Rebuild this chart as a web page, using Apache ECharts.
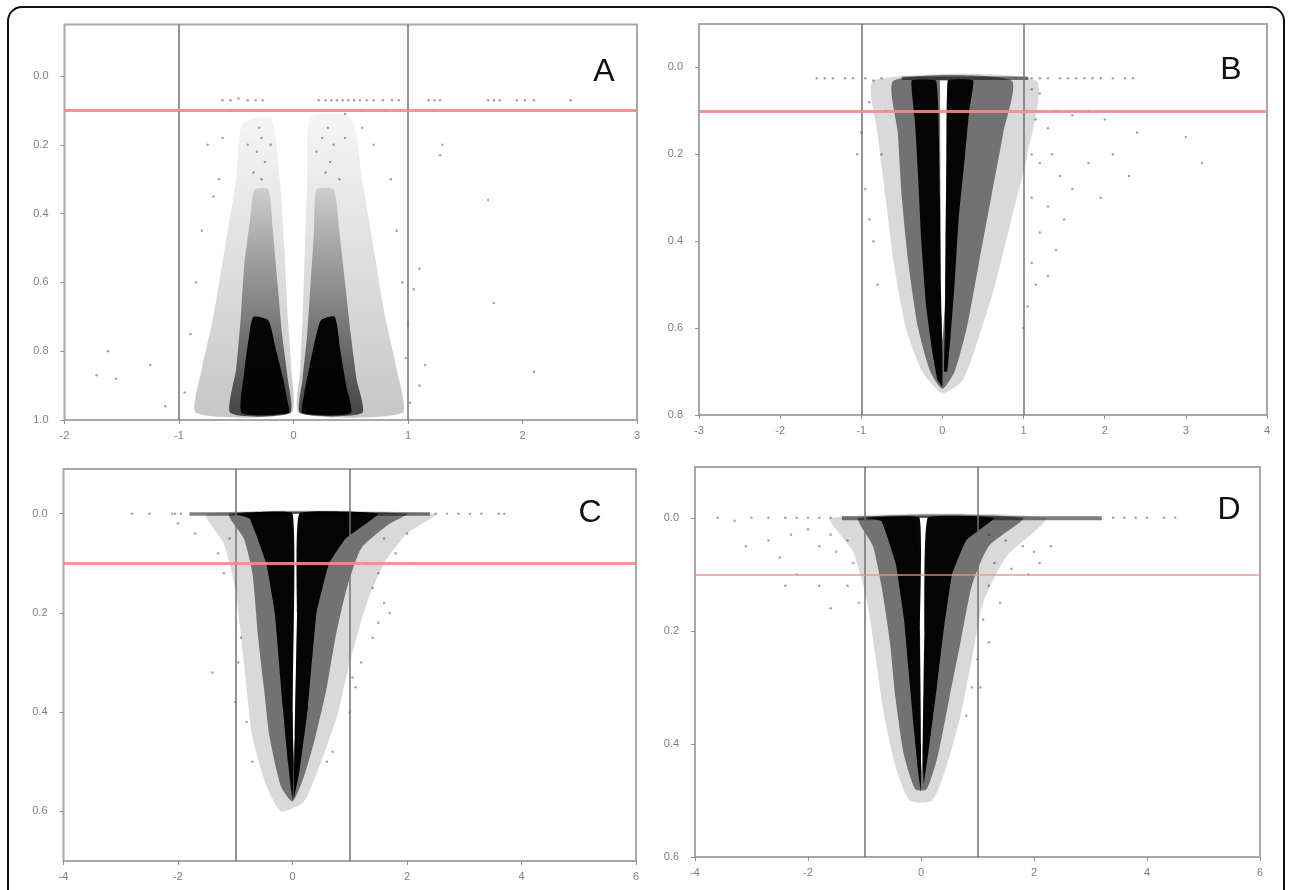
<!DOCTYPE html>
<html>
<head>
<meta charset="utf-8">
<script src="https://cdn.jsdelivr.net/npm/echarts@6/dist/echarts.min.js"></script>
<style>html,body{margin:0;padding:0;background:#fff}#c{width:1289px;height:890px}</style>
</head>
<body>
<div id="c"></div>
<script>
// ---------- tick labels ----------
const yTicksA = [0, 0.2, 0.4, 0.6, 0.8, 1.0];
const yTicksB = [0, 0.2, 0.4, 0.6, 0.8];
const yTicksC = [0, 0.2, 0.4, 0.6];
const yTicksD = [0, 0.2, 0.4, 0.6];
const panelLabels = ['A', 'B', 'C', 'D'];

// ---------- density outlines (x, y) ----------
// Panel A: two separate arms
const A_haloL = [[-0.85,0.98],[-0.8,0.85],[-0.7,0.7],[-0.6,0.5],[-0.5,0.3],[-0.45,0.14],[-0.2,0.12],[-0.12,0.3],[-0.08,0.5],[-0.05,0.7],[-0.02,0.85],[-0.02,0.98]];
const A_midL  = [[-0.55,0.98],[-0.5,0.85],[-0.46,0.7],[-0.43,0.55],[-0.38,0.42],[-0.34,0.33],[-0.22,0.33],[-0.18,0.45],[-0.14,0.6],[-0.1,0.75],[-0.05,0.88],[-0.03,0.98]];
const A_coreL = [[-0.45,0.98],[-0.43,0.86],[-0.39,0.76],[-0.35,0.7],[-0.22,0.71],[-0.15,0.8],[-0.09,0.88],[-0.05,0.95],[-0.04,0.98]];
const A_haloR = [[0.05,0.98],[0.06,0.85],[0.08,0.7],[0.1,0.5],[0.12,0.3],[0.15,0.12],[0.5,0.12],[0.6,0.3],[0.7,0.5],[0.8,0.7],[0.9,0.85],[0.95,0.98]];
const A_midR  = [[0.06,0.98],[0.08,0.88],[0.12,0.75],[0.15,0.6],[0.18,0.45],[0.2,0.33],[0.35,0.33],[0.4,0.45],[0.45,0.6],[0.5,0.75],[0.55,0.88],[0.6,0.98]];
const A_coreR = [[0.08,0.98],[0.09,0.93],[0.13,0.86],[0.18,0.78],[0.24,0.71],[0.36,0.7],[0.41,0.8],[0.46,0.9],[0.5,0.98]];

// Panel B
const B_halo  = [[-0.85,0.03],[-0.8,0.15],[-0.7,0.3],[-0.6,0.45],[-0.45,0.6],[-0.25,0.7],[0.0,0.75],[0.25,0.72],[0.45,0.62],[0.65,0.5],[0.85,0.35],[1.05,0.2],[1.15,0.03]];
const B_mid   = [[-0.6,0.03],[-0.55,0.15],[-0.5,0.3],[-0.42,0.45],[-0.3,0.6],[-0.15,0.7],[0.0,0.74],[0.15,0.7],[0.3,0.6],[0.45,0.45],[0.6,0.3],[0.75,0.15],[0.85,0.03]];
const B_band  = [[-0.5,0.021],[1.05,0.021],[1.05,0.029],[-0.5,0.029]];
const B_gap   = [[-0.03,0.03],[0.06,0.03],[0.03,0.55],[0.0,0.63],[-0.02,0.55]];
const B_coreL = [[-0.38,0.03],[-0.34,0.12],[-0.3,0.25],[-0.26,0.4],[-0.2,0.55],[-0.12,0.66],[-0.06,0.72],[0.0,0.735],[0.0,0.65],[-0.02,0.5],[-0.03,0.3],[-0.05,0.1],[-0.08,0.03]];
const B_coreR = [[0.07,0.03],[0.05,0.2],[0.04,0.4],[0.03,0.6],[0.02,0.7],[0.06,0.7],[0.1,0.62],[0.15,0.5],[0.2,0.35],[0.28,0.2],[0.33,0.1],[0.38,0.03]];

// Panel C
const C_halo  = [[-1.5,0.0],[-1.2,0.06],[-1.0,0.15],[-0.85,0.3],[-0.7,0.45],[-0.45,0.55],[-0.2,0.6],[0.2,0.58],[0.5,0.5],[0.8,0.4],[1.0,0.3],[1.3,0.18],[1.6,0.1],[2.0,0.04],[2.5,0.0]];
const C_mid   = [[-1.1,0.0],[-0.85,0.05],[-0.7,0.12],[-0.6,0.25],[-0.5,0.35],[-0.4,0.45],[-0.2,0.55],[0.0,0.58],[0.2,0.53],[0.4,0.45],[0.6,0.35],[0.75,0.25],[0.95,0.15],[1.2,0.07],[1.7,0.02],[2.0,0.0]];
const C_band  = [[-1.8,-0.003],[2.4,-0.003],[2.4,0.004],[-1.8,0.004]];
const C_gap   = [[0.0,0.0],[0.12,0.0],[0.04,0.45],[0.01,0.5]];
const C_coreL = [[-1.0,0.0],[-0.75,0.01],[-0.46,0.1],[-0.31,0.2],[-0.17,0.39],[-0.08,0.5],[0.0,0.577],[0.02,0.5],[0.0,0.4],[0.0,0.0]];
const C_coreR = [[0.12,0.0],[1.5,0.0],[0.93,0.05],[0.64,0.1],[0.42,0.2],[0.27,0.39],[0.12,0.52],[0.02,0.575],[0.04,0.45],[0.08,0.2]];

// Panel D
const D_halo  = [[-1.6,0.0],[-1.2,0.06],[-0.95,0.15],[-0.8,0.25],[-0.65,0.35],[-0.45,0.44],[-0.2,0.5],[0.2,0.5],[0.45,0.44],[0.7,0.35],[0.9,0.25],[1.1,0.15],[1.5,0.07],[2.2,0.0]];
const D_mid   = [[-1.1,0.0],[-0.85,0.05],[-0.7,0.12],[-0.55,0.22],[-0.45,0.32],[-0.3,0.42],[-0.1,0.48],[0.1,0.48],[0.3,0.42],[0.5,0.32],[0.7,0.22],[0.9,0.12],[1.2,0.05],[1.8,0.0]];
const D_band  = [[-1.4,-0.003],[3.2,-0.003],[3.2,0.004],[-1.4,0.004]];
const D_gap   = [[-0.03,0.0],[0.12,0.0],[0.03,0.42],[0.0,0.45]];
const D_coreL = [[-1.0,0.0],[-0.7,0.006],[-0.45,0.08],[-0.3,0.18],[-0.22,0.27],[-0.12,0.38],[-0.05,0.45],[0.0,0.485],[0.0,0.4],[-0.02,0.2],[-0.03,0.0]];
const D_coreR = [[0.12,0.0],[1.3,0.0],[0.8,0.04],[0.55,0.1],[0.4,0.2],[0.28,0.3],[0.15,0.4],[0.05,0.47],[0.03,0.42],[0.06,0.2]];

// ---------- sparse points ----------
const A_pts = [[-0.62,0.07],[-0.55,0.07],[-0.48,0.065],[-0.4,0.07],[-0.33,0.07],[-0.27,0.07],[0.22,0.07],[0.28,0.07],[0.33,0.07],[0.38,0.07],[0.43,0.07],[0.48,0.07],[0.53,0.07],[0.58,0.07],[0.64,0.07],[0.7,0.07],[0.78,0.07],[0.86,0.07],[0.92,0.07],[1.18,0.07],[1.23,0.07],[1.28,0.07],[1.7,0.07],[1.75,0.07],[1.8,0.07],[1.95,0.07],[2.02,0.07],[2.1,0.07],[2.42,0.07],
 [-0.55,0.1],[-0.3,0.1],[0.3,0.1],[0.45,0.11],[0.6,0.1],[0.8,0.1],[1.22,0.1],
 [1.3,0.2],[1.28,0.23],[1.7,0.36],[1.1,0.56],[1.05,0.62],[1.75,0.66],[2.1,0.86],[1.15,0.84],[1.1,0.9],[1.02,0.95],[1.0,0.72],[0.98,0.82],[-1.62,0.8],[-1.72,0.87],[-1.55,0.88],[-1.25,0.84],[-1.12,0.96],[-0.95,0.92],[-0.9,0.75],[-0.85,0.6],[-0.8,0.45],[-0.7,0.35],[-0.75,0.2],[-0.62,0.18],[-0.65,0.3],[0.85,0.3],[0.9,0.45],[0.95,0.6],[0.7,0.2],[0.6,0.15],
 [-0.3,0.15],[-0.28,0.18],[-0.32,0.22],[-0.25,0.25],[-0.35,0.28],[-0.28,0.3],[-0.2,0.2],[-0.4,0.2],[0.3,0.15],[0.25,0.18],[0.35,0.2],[0.32,0.25],[0.28,0.28],[0.4,0.3],[0.2,0.22],[0.45,0.18]];
const B_pts = [[-1.55,0.025],[-1.45,0.025],[-1.35,0.025],[-1.2,0.025],[-1.1,0.025],[-0.95,0.025],[-0.85,0.03],[-0.75,0.025],[1.05,0.025],[1.1,0.025],[1.2,0.025],[1.3,0.025],[1.45,0.025],[1.55,0.025],[1.65,0.025],[1.75,0.025],[1.85,0.025],[1.95,0.025],[2.1,0.025],[2.25,0.025],[2.35,0.025],
 [1.1,0.05],[1.2,0.06],[1.05,0.1],[1.15,0.12],[1.3,0.14],[1.4,0.1],[1.6,0.11],[1.1,0.2],[1.2,0.22],[1.35,0.2],[1.45,0.25],[1.6,0.28],[1.8,0.22],[2.1,0.2],[2.4,0.15],[2.3,0.25],[3.2,0.22],[3.0,0.16],[1.1,0.3],[1.3,0.32],[1.5,0.35],[1.2,0.38],[1.4,0.42],[1.1,0.45],[1.15,0.5],[1.05,0.55],[1.3,0.48],[1.0,0.6],[1.8,0.1],[2.0,0.12],[1.95,0.3],
 [-1.0,0.15],[-1.05,0.2],[-0.95,0.28],[-0.9,0.35],[-0.85,0.4],[-0.8,0.5],[-0.75,0.2],[-0.7,0.1],[-0.9,0.08]];
const C_pts = [[-2.8,0.0],[-2.5,0.0],[-2.1,0.0],[-1.95,0.0],[-2.05,0.0],[2.5,0.0],[2.7,0.0],[2.9,0.0],[3.1,0.0],[3.3,0.0],[3.6,0.0],[3.7,0.0],
 [-2.0,0.02],[-1.7,0.04],[-1.3,0.08],[-1.2,0.12],[-1.1,0.05],[1.6,0.05],[1.8,0.08],[2.0,0.04],[1.5,0.12],[1.4,0.15],[1.6,0.18],[1.7,0.2],[1.4,0.25],[1.5,0.22],[1.2,0.3],[1.1,0.35],[1.0,0.4],[1.05,0.33],[-1.4,0.32],[-1.0,0.38],[-0.95,0.3],[-0.9,0.25],[-0.8,0.42],[-0.7,0.5],[0.7,0.48],[0.6,0.5],[1.3,0.1],[2.1,0.1]];
const D_pts = [[-3.6,0.0],[-3.3,0.005],[-3.0,0.0],[-2.7,0.0],[-2.4,0.0],[-2.2,0.0],[-2.0,0.0],[-1.8,0.0],[-1.6,0.0],[3.4,0.0],[3.6,0.0],[3.8,0.0],[4.0,0.0],[4.3,0.0],[4.5,0.0],
 [-3.1,0.05],[-2.7,0.04],[-2.3,0.03],[-2.0,0.02],[-1.8,0.05],[-1.6,0.03],[-1.5,0.06],[-2.5,0.07],[-2.2,0.1],[-2.4,0.12],[-1.8,0.12],[-1.6,0.16],[-1.3,0.12],[-1.2,0.08],[-1.1,0.15],[-1.3,0.04],
 [1.2,0.03],[1.5,0.04],[1.8,0.05],[2.0,0.06],[2.3,0.05],[1.3,0.08],[1.6,0.09],[1.9,0.1],[2.1,0.08],[1.2,0.12],[1.4,0.15],[1.1,0.18],[1.2,0.22],[1.0,0.25],[0.9,0.3],[0.8,0.35],[1.05,0.3]];

// ---------- build ----------
function vgrad(top, bottom) {
  return new echarts.graphic.LinearGradient(0, 0, 0, 1, [{ offset: 0, color: top }, { offset: 1, color: bottom }]);
}
const HALO = 'rgba(0,0,0,0.15)', MID = 'rgba(0,0,0,0.48)', CORE = 'rgba(0,0,0,0.96)', BAND = 'rgba(0,0,0,0.5)';
const A_HALO = vgrad('rgba(0,0,0,0.04)', 'rgba(0,0,0,0.22)');
const A_MID = vgrad('rgba(0,0,0,0.12)', 'rgba(0,0,0,0.65)');
function poly(g, pts, fill, smooth) {
  return {
    type: 'custom', xAxisIndex: g, yAxisIndex: g, silent: true, clip: true,
    data: [pts[0]],
    renderItem: function (params, api) {
      return { type: 'polygon', shape: { points: pts.map(function (p) { return api.coord(p); }), smooth: smooth || 0 }, style: { fill: fill } };
    }
  };
}
function pts(g, data, redWidth) {
  return {
    type: 'scatter', xAxisIndex: g, yAxisIndex: g, data: data, symbolSize: 2.5, silent: true,
    itemStyle: { color: 'rgba(0,0,0,0.45)' },
    markLine: {
      silent: true, symbol: ['none', 'none'], label: { show: false }, animation: false,
      data: [
        { xAxis: -1, lineStyle: { color: '#707070', width: 1.5, type: 'solid' } },
        { xAxis: 1, lineStyle: { color: '#707070', width: 1.5, type: 'solid' } },
        { yAxis: 0.1, lineStyle: { color: '#f4898b', width: redWidth, type: 'solid', opacity: 0.9 } }
      ]
    }
  };
}
const grids = [
  { left: 64.5, top: 24.5, width: 572.5, height: 395.5 },
  { left: 699, top: 24, width: 568, height: 391 },
  { left: 63.5, top: 469, width: 572.5, height: 392 },
  { left: 695, top: 467, width: 565, height: 390 }
];
grids.forEach(function (g) { g.show = true; g.borderColor = '#a8a8a8'; g.borderWidth = 2; g.backgroundColor = 'transparent'; });
const labelStyle = { color: '#808080', fontSize: 11, fontFamily: 'Liberation Sans' };
function xAx(g, min, max, interval) {
  return { type: 'value', gridIndex: g, min: min, max: max, interval: interval,
    axisLine: { show: false, onZero: false }, splitLine: { show: false },
    axisTick: { show: true, inside: false, length: 4, lineStyle: { color: '#909090', width: 1 } },
    axisLabel: Object.assign({ margin: 10 }, labelStyle) };
}
function yAx(g, min, max, ticks) {
  return { type: 'value', gridIndex: g, min: min, max: max, inverse: true,
    axisLine: { show: false, onZero: false }, splitLine: { show: false },
    axisTick: { show: true, inside: false, length: 4, customValues: ticks, lineStyle: { color: '#909090', width: 1 } },
    axisLabel: Object.assign({ margin: 16, customValues: ticks, formatter: function (v) { return v.toFixed(1); } }, labelStyle) };
}
const series = [
  poly(0, A_haloL, A_HALO, 0.2), poly(0, A_haloR, A_HALO, 0.2), poly(0, A_midL, A_MID, 0.2), poly(0, A_midR, A_MID, 0.2), poly(0, A_coreL, CORE, 0.2), poly(0, A_coreR, CORE, 0.2),
  poly(1, B_halo, HALO, 0.2), poly(1, B_mid, MID, 0.2), poly(1, B_band, BAND), poly(1, B_gap, '#ffffff'), poly(1, B_coreL, CORE, 0.1), poly(1, B_coreR, CORE, 0.1),
  poly(2, C_halo, HALO, 0.2), poly(2, C_mid, MID, 0.2), poly(2, C_band, BAND), poly(2, C_gap, '#ffffff'), poly(2, C_coreL, CORE, 0.1), poly(2, C_coreR, CORE, 0.1),
  poly(3, D_halo, HALO, 0.2), poly(3, D_mid, MID, 0.2), poly(3, D_band, BAND), poly(3, D_gap, '#ffffff'), poly(3, D_coreL, CORE, 0.1), poly(3, D_coreR, CORE, 0.1),
  pts(0, A_pts, 3), pts(1, B_pts, 3), pts(2, C_pts, 3), pts(3, D_pts, 1.5)
];
const letterPos = [[604, 72], [1231, 70], [590, 513], [1229, 510]];
const graphic = [
  { type: 'rect', shape: { x: 8, y: 7, width: 1276, height: 910, r: 14 }, style: { fill: 'none', stroke: '#111', lineWidth: 2 }, silent: true }
].concat(panelLabels.map(function (t, i) {
  return { type: 'text', x: letterPos[i][0], y: letterPos[i][1], style: { text: t, fill: '#111', font: '32px "Liberation Sans", Arial, sans-serif', align: 'center', verticalAlign: 'middle' }, silent: true };
}));
const chart = echarts.init(document.getElementById('c'), null, { renderer: 'canvas' });
chart.setOption({
  animation: false,
  grid: grids,
  xAxis: [xAx(0, -2, 3, 1), xAx(1, -3, 4, 1), xAx(2, -4, 6, 2), xAx(3, -4, 6, 2)],
  yAxis: [yAx(0, -0.15, 1.0, yTicksA), yAx(1, -0.1, 0.8, yTicksB), yAx(2, -0.09, 0.7, yTicksC), yAx(3, -0.09, 0.6, yTicksD)],
  series: series,
  graphic: graphic
});
</script>
</body>
</html>
